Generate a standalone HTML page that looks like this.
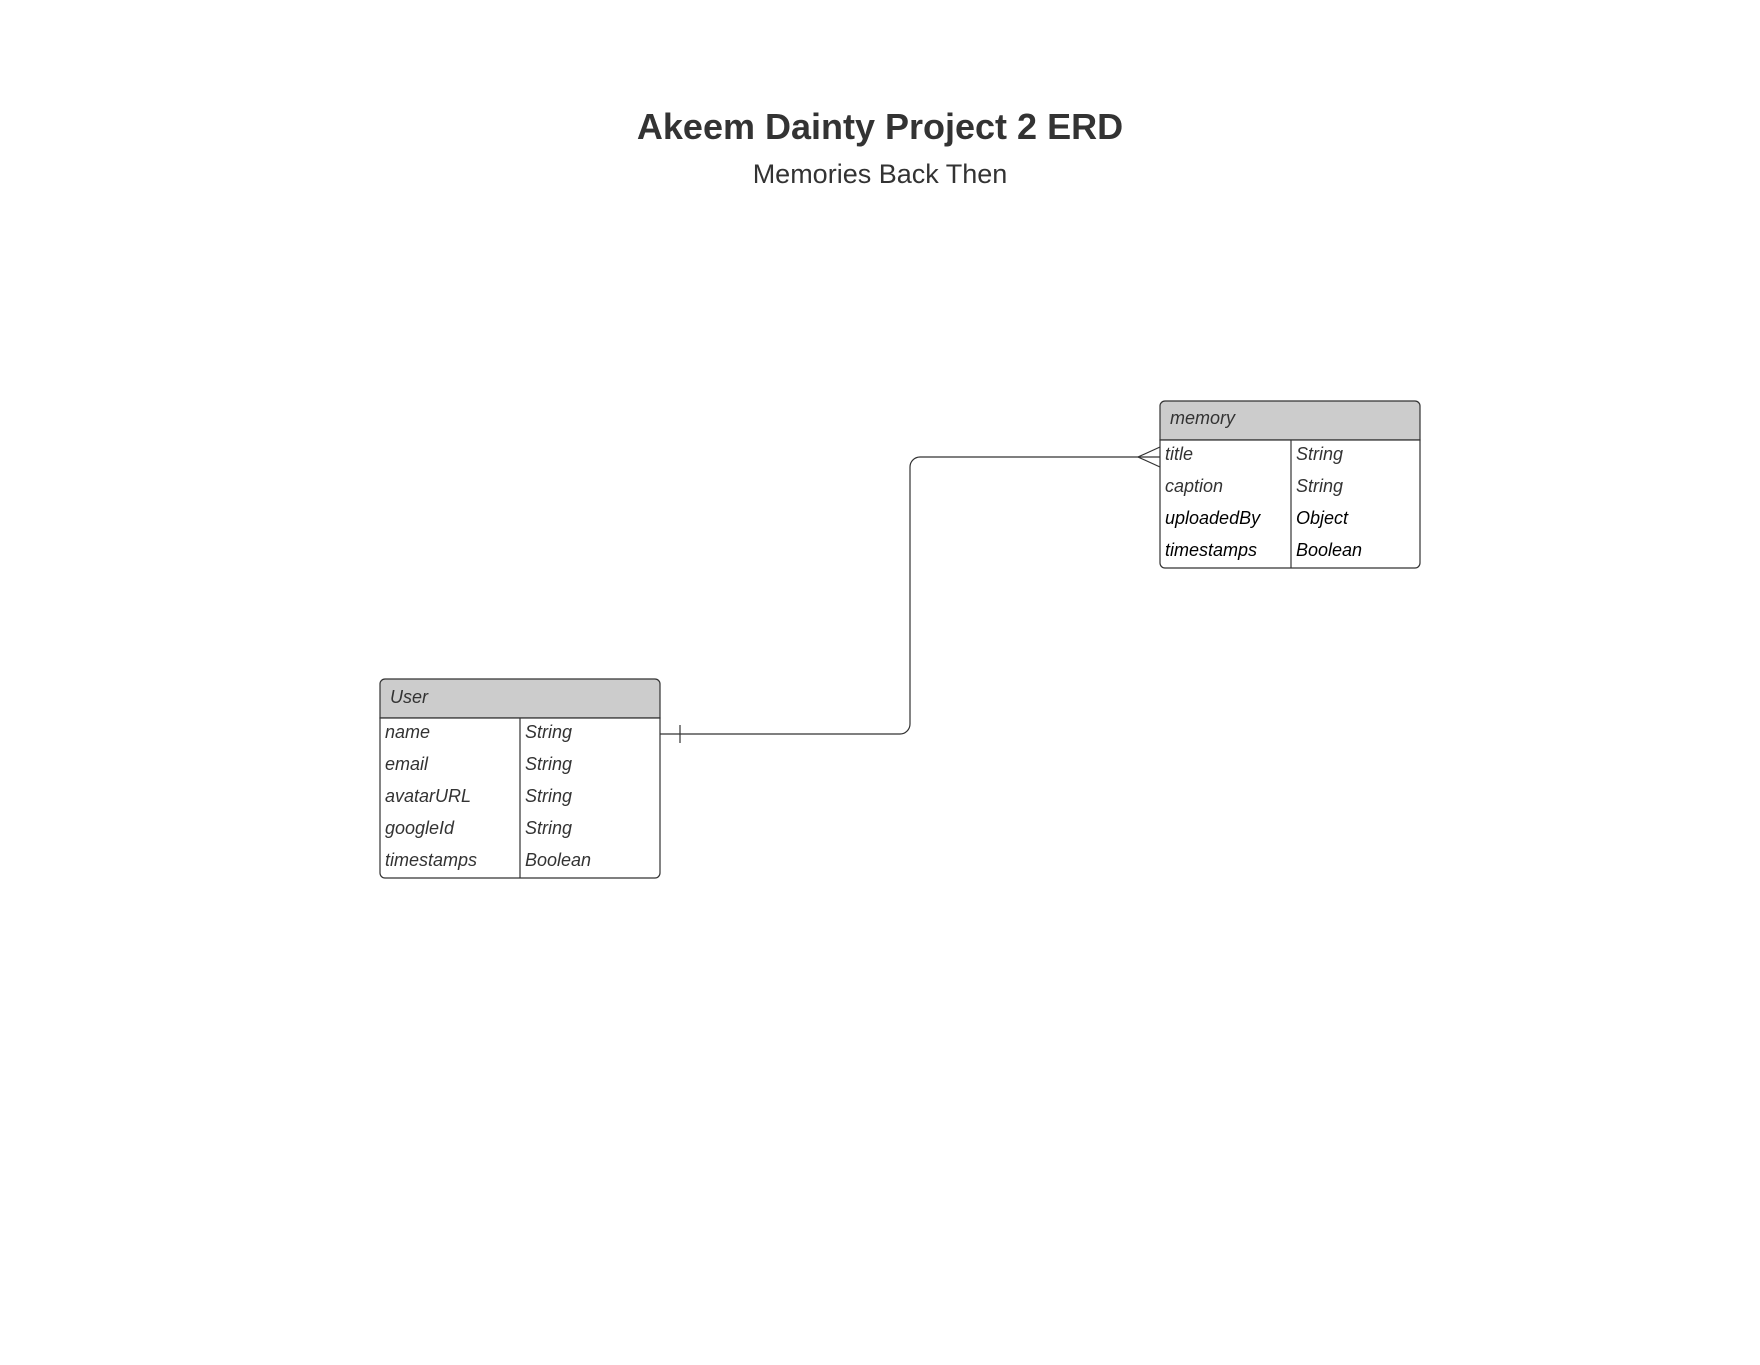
<!DOCTYPE html>
<html><head><style>
body{margin:0;background:#fff;width:1760px;height:1360px;overflow:hidden}
svg text{font-family:"Liberation Sans",sans-serif}
</style></head><body>
<svg width="1760" height="1360" xmlns="http://www.w3.org/2000/svg">
<text x="880" y="139" text-anchor="middle" font-size="36" font-weight="bold" fill="#333">Akeem Dainty Project 2 ERD</text>
<text x="880" y="183" text-anchor="middle" font-size="27" fill="#333">Memories Back Then</text>

<!-- User -->
<path d="M380,718 V684 a5,5 0 0 1 5,-5 H655 a5,5 0 0 1 5,5 V718 Z" fill="#ccc" stroke="#333" stroke-width="1.2"/>
<path d="M380,718 H660 V873 a5,5 0 0 1 -5,5 H385 a5,5 0 0 1 -5,-5 Z" fill="#fff" stroke="#333" stroke-width="1.2"/>
<line x1="520" y1="718" x2="520" y2="878" stroke="#333" stroke-width="1.2"/>
<g font-size="18" font-style="italic" fill="#333">
<text x="390" y="703">User</text>
<text x="385" y="738">name</text><text x="525" y="738">String</text>
<text x="385" y="770">email</text><text x="525" y="770">String</text>
<text x="385" y="802">avatarURL</text><text x="525" y="802">String</text>
<text x="385" y="834">googleId</text><text x="525" y="834">String</text>
<text x="385" y="866">timestamps</text><text x="525" y="866">Boolean</text>
</g>

<!-- memory -->
<path d="M1160,440 V406 a5,5 0 0 1 5,-5 H1415 a5,5 0 0 1 5,5 V440 Z" fill="#ccc" stroke="#333" stroke-width="1.2"/>
<path d="M1160,440 H1420 V563 a5,5 0 0 1 -5,5 H1165 a5,5 0 0 1 -5,-5 Z" fill="#fff" stroke="#333" stroke-width="1.2"/>
<line x1="1291" y1="440" x2="1291" y2="568" stroke="#333" stroke-width="1.2"/>
<g font-size="18" font-style="italic">
<text x="1170" y="424" fill="#333">memory</text>
<text x="1165" y="460" fill="#333">title</text><text x="1296" y="460" fill="#333">String</text>
<text x="1165" y="492" fill="#333">caption</text><text x="1296" y="492" fill="#333">String</text>
<text x="1165" y="524" fill="#000">uploadedBy</text><text x="1296" y="524" fill="#000">Object</text>
<text x="1165" y="556" fill="#000">timestamps</text><text x="1296" y="556" fill="#000">Boolean</text>
</g>

<!-- connector -->
<path d="M660,734 H900 a10,10 0 0 0 10,-10 V467 a10,10 0 0 1 10,-10 H1160" fill="none" stroke="#333" stroke-width="1.2"/>
<line x1="680" y1="725" x2="680" y2="743" stroke="#333" stroke-width="1.2"/>
<path d="M1160,447 L1138,457 L1160,467" fill="none" stroke="#333" stroke-width="1.2"/>
</svg>
</body></html>
